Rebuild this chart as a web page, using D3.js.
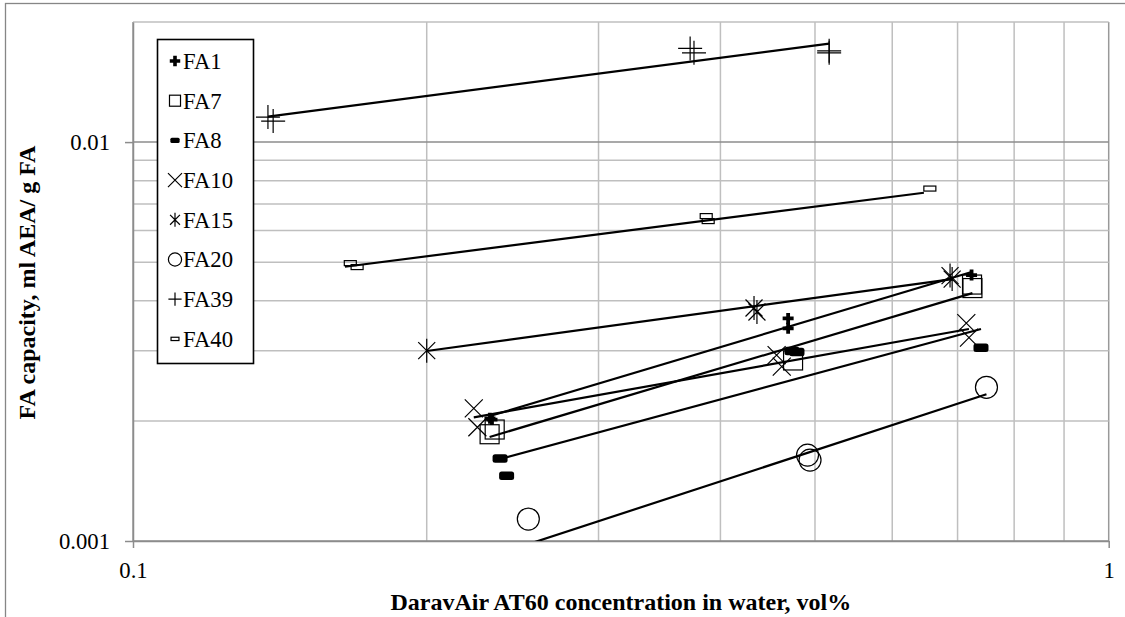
<!DOCTYPE html>
<html>
<head>
<meta charset="utf-8">
<script src="https://cdn.jsdelivr.net/npm/d3@7"></script>
<style>
  html, body { margin: 0; padding: 0; background: #fff; }
  svg { display: block; }
  svg text { font-family: "Liberation Serif", Tinos, "Times New Roman", Times, "DejaVu Serif", serif; fill: #000; }
</style>
</head>
<body>
<svg id="chart" width="1125" height="617"></svg>
<script>
// ---------- data (concentration in vol%, capacity in ml AEA / g FA) ----------
const seriesNames = ["FA1", "FA7", "FA8", "FA10", "FA15", "FA20", "FA39", "FA40"];

const fa1X  = [0.2322, 0.2333, 0.4693, 0.4693, 0.7235];
const fa1Y  = [0.00203, 0.002016, 0.003614, 0.003412, 0.004642];
const fa7X  = [0.2320, 0.2348, 0.4748, 0.7243, 0.7250];
const fa7Y  = [0.001852, 0.001903, 0.002835, 0.004394, 0.004306];
const fa8X  = [0.2378, 0.2415, 0.4736, 0.4792, 0.7398];
const fa8Y  = [0.001609, 0.001457, 0.002994, 0.002977, 0.003052];
const fa10X = [0.2235, 0.2254, 0.4567, 0.4623, 0.7146, 0.7191];
const fa10Y = [0.002151, 0.001928, 0.002925, 0.002735, 0.003518, 0.003236];
const fa15X = [0.2, 0.4330, 0.4360, 0.6877, 0.6911];
const fa15Y = [0.003, 0.003837, 0.003750, 0.004628, 0.004535];
const fa20X = [0.2542, 0.4913, 0.4942, 0.7494];
const fa20Y = [0.001135, 0.001642, 0.001595, 0.002428];
const fa39X = [0.1375, 0.1392, 0.3724, 0.3758, 0.517, 0.517];
const fa39Y = [0.01155, 0.01129, 0.01717, 0.01674, 0.01693, 0.01674];
const fa40X = [0.1670, 0.1697, 0.3868, 0.3886, 0.6557];
const fa40Y = [0.004973, 0.004860, 0.006523, 0.006338, 0.007647];

// power-law trend lines: [x start, y start, x end, y end]
const fa1Trend  = [0.2322, 0.002057, 0.7235, 0.004723];
const fa7Trend  = [0.2320, 0.001823, 0.7250, 0.004183];
const fa8Trend  = [0.2378, 0.001605, 0.7398, 0.003399];
const fa10Trend = [0.2235, 0.002042, 0.7191, 0.003399];
const fa15Trend = [0.2, 0.002994, 0.6911, 0.004535];
const fa20Trend = [0.2542, 0.000982, 0.7494, 0.002332];
const fa39Trend = [0.1375, 0.01158, 0.517, 0.01766];
const fa40Trend = [0.1649, 0.004870, 0.6466, 0.007463];

const xTickLabels = ["0.1", "1"];
const yTickLabels = ["0.001", "0.01"];
const xTitle = "DaravAir AT60 concentration in water, vol%";
const yTitle = "FA capacity, ml AEA/ g FA";

const seriesX = [fa1X, fa7X, fa8X, fa10X, fa15X, fa20X, fa39X, fa40X];
const seriesY = [fa1Y, fa7Y, fa8Y, fa10Y, fa15Y, fa20Y, fa39Y, fa40Y];
const trends  = [fa1Trend, fa7Trend, fa8Trend, fa10Trend, fa15Trend, fa20Trend, fa39Trend, fa40Trend];

// marker style per series
const markerKind = ["cross", "square", "pill", "x", "star", "circle", "plus", "bar"];

// ---------- layout ----------
const W = 1125, H = 617;
const plot = { left: 133, right: 1108.7, top: 22, bottom: 541 };
const FONT = '"Liberation Serif", Tinos, "Times New Roman", Times, "DejaVu Serif", serif';
const LABEL_SIZE = 22.7, TITLE_SIZE = 24;

const svg = d3.select("#chart");

const x = d3.scaleLog().domain([0.1, 1]).range([plot.left, plot.right]);
const y = d3.scaleLog().domain([0.001, 0.02]).range([plot.bottom, plot.top]);

// outer chart frame
svg.append("rect")
  .attr("x", 5.5).attr("y", 3.5)
  .attr("width", W + 20).attr("height", H + 20)
  .attr("fill", "#fff").attr("stroke", "#868686").attr("stroke-width", 1.3);

const isMajor = v => Math.abs(Math.log10(v) - Math.round(Math.log10(v))) < 1e-9;

// gridlines
const grid = svg.append("g");
const xGrid = x.ticks();
const yGrid = y.ticks();
grid.selectAll("line.gx").data(xGrid).join("line")
  .attr("x1", d => x(d)).attr("x2", d => x(d))
  .attr("y1", plot.top).attr("y2", plot.bottom)
  .attr("stroke", d => isMajor(d) ? "#999" : "#bfbfbf")
  .attr("stroke-width", 1.5);
grid.selectAll("line.gy").data(yGrid).join("line")
  .attr("x1", plot.left).attr("x2", plot.right)
  .attr("y1", d => y(d)).attr("y2", d => y(d))
  .attr("stroke", d => isMajor(d) ? "#8c8c8c" : "#bfbfbf")
  .attr("stroke-width", 1.5);

// axes (major ticks only)
const xMajor = xTickLabels.map(Number);
const yMajor = yTickLabels.map(Number);

const xAxis = d3.axisBottom(x).tickValues(xMajor).tickFormat((d, i) => xTickLabels[i])
  .tickSizeInner(7).tickSizeOuter(0).tickPadding(14);
const yAxis = d3.axisLeft(y).tickValues(yMajor).tickFormat((d, i) => yTickLabels[i])
  .tickSizeInner(8).tickSizeOuter(0).tickPadding(15);

const gx = svg.append("g").attr("transform", `translate(0,${plot.bottom})`).call(xAxis);
const gy = svg.append("g").attr("transform", `translate(${plot.left},0)`).call(yAxis);
[gx, gy].forEach(g => {
  g.attr("font-family", FONT).attr("font-size", LABEL_SIZE);
  g.select(".domain").attr("stroke", "#8c8c8c").attr("stroke-width", 1.5);
  g.selectAll(".tick line").attr("stroke", "#8c8c8c").attr("stroke-width", 1.5);
  g.selectAll(".tick text").attr("fill", "#000");
});
gy.selectAll(".tick text").attr("dy", "0.34em");

// clip region for the series
svg.append("clipPath").attr("id", "plotClip")
  .append("rect")
  .attr("x", plot.left).attr("y", plot.top)
  .attr("width", plot.right - plot.left).attr("height", plot.bottom - plot.top);

// marker shapes, drawn at the origin; s = scale (1 in plot, smaller in legend)
function drawMarker(g, kind, s) {
  const sw = 1.2;
  switch (kind) {
    case "cross": {
      const a = 5.5 * s, t = 1.9 * s;
      g.append("path")
        .attr("d", `M${-t},${-a}H${t}V${-t}H${a}V${t}H${t}V${a}H${-t}V${t}H${-a}V${-t}H${-t}Z`)
        .attr("fill", "#000");
      break;
    }
    case "square": {
      const h = 9.5 * s;
      g.append("rect").attr("x", -h).attr("y", -h).attr("width", 2 * h).attr("height", 2 * h)
        .attr("fill", "none").attr("stroke", "#000").attr("stroke-width", sw);
      break;
    }
    case "pill": {
      const w = 15 * s, h = 8.5 * s;
      g.append("rect").attr("x", -w / 2).attr("y", -h / 2).attr("width", w).attr("height", h)
        .attr("rx", 2.5 * s).attr("fill", "#000");
      break;
    }
    case "x": {
      const h = 9 * s;
      g.append("path").attr("d", `M${-h},${-h}L${h},${h}M${-h},${h}L${h},${-h}`)
        .attr("stroke", "#000").attr("stroke-width", sw).attr("fill", "none");
      break;
    }
    case "star": {
      const h = 12 * s, d = 8.5 * s;
      g.append("path").attr("d", `M${-d},${-d}L${d},${d}M${-d},${d}L${d},${-d}M0,${-h}V${h}`)
        .attr("stroke", "#000").attr("stroke-width", sw).attr("fill", "none");
      break;
    }
    case "circle": {
      g.append("circle").attr("r", 11 * s)
        .attr("fill", "none").attr("stroke", "#000").attr("stroke-width", sw);
      break;
    }
    case "plus": {
      const h = 12 * s;
      g.append("path").attr("d", `M${-h},0H${h}M0,${-h}V${h}`)
        .attr("stroke", "#000").attr("stroke-width", sw).attr("fill", "none");
      break;
    }
    case "bar": {
      const w = 12 * s, h = 5 * s;
      g.append("rect").attr("x", -w / 2).attr("y", -h / 2).attr("width", w).attr("height", h)
        .attr("fill", "none").attr("stroke", "#000").attr("stroke-width", sw);
      break;
    }
  }
}

// markers
const markers = svg.append("g").attr("clip-path", "url(#plotClip)");
seriesNames.forEach((name, i) => {
  const pts = seriesX[i].map((xv, j) => [xv, seriesY[i][j]]);
  markers.append("g").attr("class", "series-" + name)
    .selectAll("g").data(pts).join("g")
    .attr("transform", d => `translate(${x(d[0])},${y(d[1])})`)
    .each(function () { drawMarker(d3.select(this), markerKind[i], 1); });
});

// trend lines
const trendG = svg.append("g").attr("clip-path", "url(#plotClip)");
trendG.selectAll("line").data(trends).join("line")
  .attr("x1", d => x(d[0])).attr("y1", d => y(d[1]))
  .attr("x2", d => x(d[2])).attr("y2", d => y(d[3]))
  .attr("stroke", "#000").attr("stroke-width", 2.2);

// legend
const legend = svg.append("g");
legend.append("rect")
  .attr("x", 157.5).attr("y", 39.5).attr("width", 96).attr("height", 324)
  .attr("fill", "#fff").attr("stroke", "#000").attr("stroke-width", 1.6);
const legendScale = { cross: 0.95, square: 0.58, pill: 0.62, x: 0.78, star: 0.58, circle: 0.6, plus: 0.55, bar: 0.66 };
seriesNames.forEach((name, i) => {
  const cy = 61 + i * 39.7;
  const m = legend.append("g").attr("transform", `translate(175,${cy})`);
  drawMarker(m, markerKind[i], legendScale[markerKind[i]]);
  legend.append("text")
    .attr("x", 183).attr("y", cy).attr("dy", "0.35em")
    .attr("font-family", FONT).attr("font-size", LABEL_SIZE).text(name);
});

// axis titles
svg.append("text")
  .attr("x", (plot.left + plot.right) / 2).attr("y", 610)
  .attr("text-anchor", "middle").attr("font-family", FONT)
  .attr("font-size", TITLE_SIZE).attr("font-weight", "bold")
  .text(xTitle);
svg.append("text")
  .attr("transform", `translate(35,${(plot.top + plot.bottom) / 2 + 1}) rotate(-90)`)
  .attr("text-anchor", "middle").attr("font-family", FONT)
  .attr("font-size", TITLE_SIZE).attr("font-weight", "bold")
  .text(yTitle);
</script>
</body>
</html>
